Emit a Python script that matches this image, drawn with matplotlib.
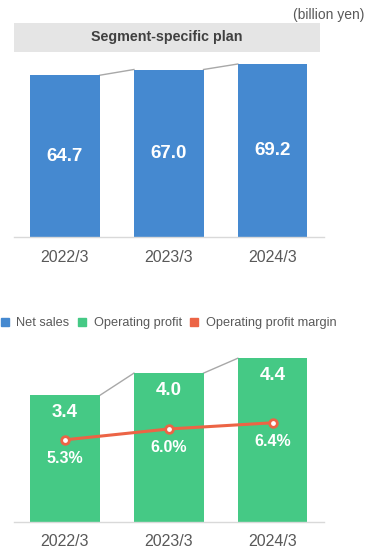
import matplotlib.pyplot as plt
from matplotlib.patches import Rectangle
from matplotlib.lines import Line2D

plt.rcParams['font.family'] = ['Liberation Sans', 'DejaVu Sans']

years = ['2022/3', '2023/3', '2024/3']
net_sales = [64.7, 67.0, 69.2]
op_profit = [3.4, 4.0, 4.4]
op_margin = [5.3, 6.0, 6.4]

BLUE = '#4589D0'
GREEN = '#45C985'
ORANGE = '#EC6445'
GRAY_TXT = '#595959'
CONNECT = '#A8A8A8'

fig = plt.figure(figsize=(3.74, 5.5), dpi=100)
W, H = 374, 550


def px_axes(left, top, right, bottom):
    return fig.add_axes([left / W, 1 - bottom / H, (right - left) / W, (bottom - top) / H])


def style(ax):
    for s in ['top', 'right', 'left']:
        ax.spines[s].set_visible(False)
    ax.spines['bottom'].set_color('#D9D9D9')
    ax.spines['bottom'].set_linewidth(1.0)
    ax.set_yticks([])
    ax.set_xticks(range(len(years)))
    ax.set_xticklabels(years, fontsize=11.5, color=GRAY_TXT)
    ax.tick_params(axis='x', length=0, pad=9)
    ax.set_xlim(-0.49, 2.495)


def connectors(ax, vals, width):
    for i in range(len(vals) - 1):
        ax.plot([i + width / 2, i + 1 - width / 2], [vals[i], vals[i + 1]],
                color=CONNECT, lw=1.0, zorder=1)


bw = 0.67

# net sales
ax1 = px_axes(14, 55, 324, 237)
style(ax1)
ax1.set_ylim(0, 72.8)
ax1.bar(range(3), net_sales, width=bw, color=BLUE, zorder=2)
connectors(ax1, net_sales, bw)
for i, v in enumerate(net_sales):
    ax1.text(i, v / 2, f'{v:.1f}', ha='center', va='center', color='white',
             fontsize=13.5, fontweight='bold')

# header box
fig.patches.append(Rectangle((14 / W, 1 - 52 / H), 306 / W, 29 / H,
                             transform=fig.transFigure, facecolor='#E5E5E5',
                             edgecolor='none'))
fig.text(167 / W, 1 - 37.5 / H, 'Segment-specific plan', ha='center', va='center',
         fontsize=10.3, fontweight='bold', color='#404040')
fig.text(364 / W, 1 - 15 / H, '(billion yen)', ha='right', va='center',
         fontsize=10, color=GRAY_TXT)

# operating profit + margin
ax2 = px_axes(14, 340, 324, 522)
style(ax2)
ax2.set_ylim(0, 4.89)
ax2.bar(range(3), op_profit, width=bw, color=GREEN, zorder=2)
connectors(ax2, op_profit, bw)
for i, v in enumerate(op_profit):
    ax2.annotate(f'{v:.1f}', (i, v), xytext=(0, -17), textcoords='offset pixels',
                 ha='center', va='center', color='white', fontsize=13.5,
                 fontweight='bold')

ax3 = ax2.twinx()
ax3.set_ylim(0, 11.74)
ax3.set_yticks([])
for s in ax3.spines.values():
    s.set_visible(False)
ax3.plot(range(3), op_margin, color=ORANGE, lw=2.2, marker='o', markersize=5.5,
         markerfacecolor='white', markeredgecolor=ORANGE, markeredgewidth=2, zorder=3)
for i, v in enumerate(op_margin):
    ax3.annotate(f'{v:.1f}%', (i, v), xytext=(0, -19), textcoords='offset pixels',
                 ha='center', va='center', color='white', fontsize=11.5,
                 fontweight='bold')

handles = [Line2D([], [], marker='s', ls='', color=c, markersize=6)
           for c in [BLUE, GREEN, ORANGE]]
fig.legend(handles, ['Net sales', 'Operating profit', 'Operating profit margin'],
           loc='center left', bbox_to_anchor=(-0.032, 1 - 323 / H), ncol=3,
           frameon=False, fontsize=9.2, handlelength=0.8, handletextpad=0.5,
           columnspacing=0.6, labelcolor=GRAY_TXT)

fig.savefig('out.png', dpi=100)
